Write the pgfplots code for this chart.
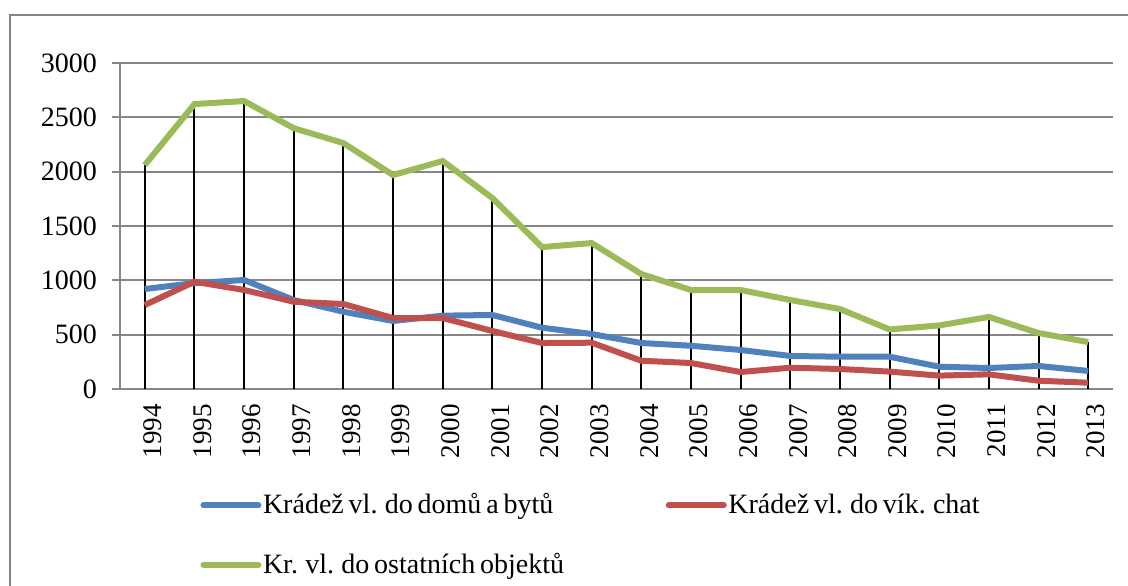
\documentclass[border=0pt]{standalone}
\usepackage{fontspec}
\setmainfont{Liberation Serif}[WordSpace=0.7]
\usepackage{pgfplots}
\usepackage{pgfplotstable}
\pgfplotsset{compat=1.18}

\definecolor{sblue}{RGB}{79,129,189}
\definecolor{sred}{RGB}{192,80,77}
\definecolor{sgreen}{RGB}{155,187,89}
\definecolor{gridgray}{RGB}{134,134,134}

\pgfplotstableread{
year blue red green
1994 920 773 2061
1995 975 987 2622
1996 1003 911 2650
1997 819 803 2400
1998 711 782 2263
1999 626 653 1969
2000 675 653 2098
2001 681 534 1757
2002 564 423 1306
2003 506 426 1343
2004 423 260 1058
2005 398 239 911
2006 359 156 911
2007 304 196 819
2008 297 184 736
2009 297 160 548
2010 205 123 585
2011 193 135 663
2012 212 76 515
2013 166 58 432
}\data

\begin{document}
\begin{tikzpicture}
\useasboundingbox (0,0) rectangle (564bp,293bp);
\draw[gridgray, line width=1bp] (5bp,-2bp) -- (5bp,285.5bp) -- (566bp,285.5bp);
\begin{axis}[
    at={(60bp,98.5bp)}, anchor=south west,
    scale only axis,
    width=496.5bp, height=163bp,
    xmin=1993.5, xmax=2013.5,
    ymin=0, ymax=3000,
    ytick={0,500,...,3000},
    xtick={1994,...,2013},
    axis x line*=bottom,
    axis y line*=left,
    axis line style={gridgray, line width=1bp},
    ymajorgrids,
    grid style={gridgray, line width=1bp},
    tick align=outside,
    major tick length=4bp,
    ytick style={gridgray, line width=1bp},
    xtick style={draw=none},
    /pgf/number format/assume math mode=true,
    /pgf/number format/1000 sep={},
    tick label style={font=\fontsize{14bp}{17bp}\selectfont},
    yticklabel style={xshift=-4bp},
    xticklabel style={rotate=90, anchor=east, font=\fontsize{13.5bp}{16bp}\selectfont, yshift=-4bp},
    legend columns=2,
    legend cell align=left,
    legend style={
        at={(0.0806,-0.315)}, anchor=north west,
        draw=none, fill=none, inner sep=0pt,
        font=\fontsize{14bp}{17bp}\selectfont,
        row sep=16.5bp,
        nodes={inner sep=0.8bp},
        /tikz/every even column/.append style={column sep=50bp},
    },
    legend image code/.code={\draw[#1, line cap=round] (0bp,0bp) -- (27.5bp,0bp);},
]
\addplot[ycomb, black, line width=1bp, forget plot] table[x=year, y=green] {\data};
\addplot[sblue, line width=3bp] table[x=year, y=blue] {\data};
\addlegendentry{Krádež vl. do domů a bytů}
\addplot[sred, line width=3bp] table[x=year, y=red] {\data};
\addlegendentry{Krádež vl. do vík. chat}
\addplot[sgreen, line width=3bp] table[x=year, y=green] {\data};
\addlegendentry{Kr. vl. do ostatních objektů}
\end{axis}
\end{tikzpicture}
\end{document}
